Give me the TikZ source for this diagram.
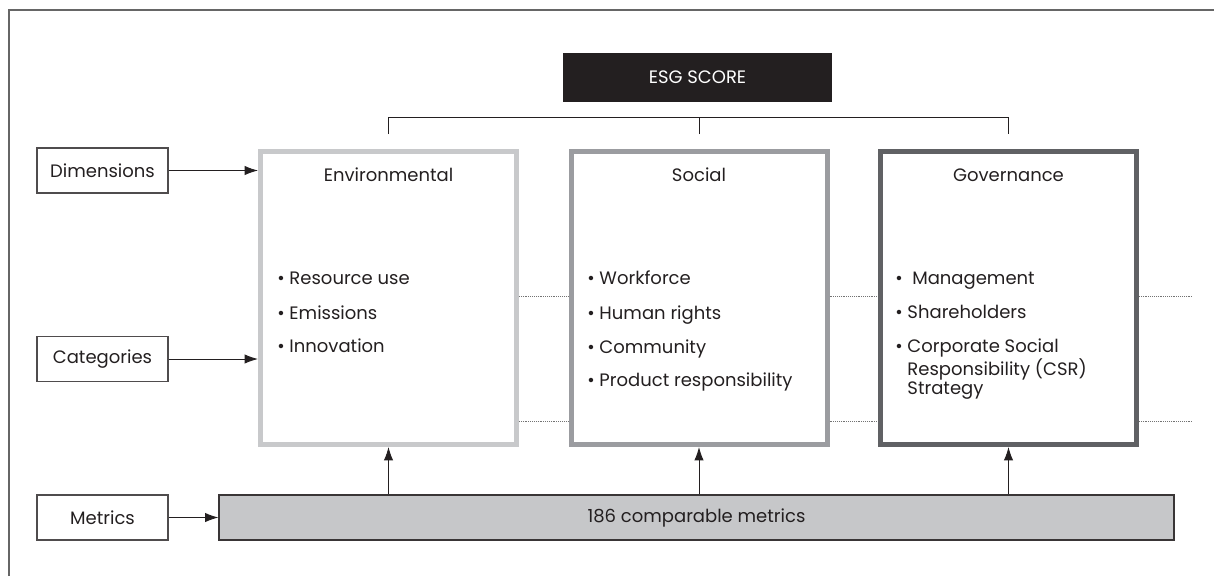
\documentclass[tikz,border=0pt]{standalone}
\usepackage{fontspec}
\setmainfont{Poppins}
\usetikzlibrary{arrows.meta}

\definecolor{ink}{HTML}{231F20}
\definecolor{envgray}{HTML}{C8C9CB}
\definecolor{socgray}{HTML}{9B9CA0}
\definecolor{govgray}{HTML}{606164}
\definecolor{barfill}{HTML}{C6C7C9}

\begin{document}
\begin{tikzpicture}[x=0.75pt,y=-0.75pt,>={Latex[length=10pt,width=7pt]},
    every node/.style={text=ink,font=\fontsize{13.5}{14.25}\selectfont},
    label box/.style={draw=ink!80,line width=0.8pt,minimum width=98.25pt,minimum height=33.75pt,inner sep=0pt},
    pillar/.style={draw=#1,line width=3.75pt,minimum width=192pt,minimum height=219.75pt,inner sep=0pt},
    items/.style={anchor=north west,align=left,inner sep=0pt},
    guide/.style={draw=black!55,line width=0.6pt,dash pattern=on 0.7pt off 0.7pt},
    link/.style={draw=ink,line width=0.7pt}]
    \useasboundingbox (0,0) rectangle (1214,576);
    % frame
    \draw [black!60,line width=0.8pt] (9,576) -- (9,10) -- (1214,10);

    \node [fill=ink,minimum width=201.75pt,minimum height=36.75pt,inner sep=0pt,text=white] (esg) at (697.5,77.5) {ESG SCORE};

    \node [pillar=envgray] (env) at (388.5,298) {};
    \node [pillar=socgray] (soc) at (699,298) {};
    \node [pillar=govgray] (gov) at (1008.5,298) {};

    \node at (388.5,175) {Environmental};
    \node at (699,175) {Social};
    \node at (1008.5,175) {Governance};

    % bullet lists, first baseline near y=284
    \node [items] (envlist) at (277,270.7) {\strut• Resource use\\[10.75pt]• Emissions\\[10.75pt]• Innovation};
    \node [items] (soclist) at (587,270.7) {\strut• Workforce\\[10.75pt]• Human rights\\[10.75pt]• Community\\[10.75pt]• Product responsibility};
    \node [items] (govlist) at (895,270.7) {\strut•\ \ Management\\[10.75pt]• Shareholders\\[10.75pt]• Corporate Social\\
        \phantom{• }Responsibility (CSR)\\\phantom{• }Strategy};

    \node [label box] (dim) at (102.5,170.5) {Dimensions};
    \node [label box] (cat) at (102.5,359) {Categories};
    \node [label box] (met) at (102.5,517.5) {Metrics};

    \node [draw=ink!90,line width=0.8pt,fill=barfill,minimum width=716.25pt,minimum height=33.75pt,inner sep=0pt] (bar) at (696.5,517.5) {186 comparable metrics};

    % bracket over the three pillars
    \draw [link] ([yshift=11.25pt]env.north) -- ++(0,-17) -| ([yshift=11.25pt]gov.north);
    \draw [link] ([yshift=11.25pt]soc.north) -- ++(0,-17);

    % dotted guides between the pillars
    \coordinate (g1) at (1192,296);
    \coordinate (g2) at (1192,421);
    \foreach \y/\g in {296/g1,421/g2}{
        \draw [guide] (env.east |- 0,\y) -- (soc.west |- 0,\y);
        \draw [guide] (soc.east |- 0,\y) -- (gov.west |- 0,\y);
        \draw [guide] (gov.east |- 0,\y) -- (\g);
    }

    \draw [link,->] (dim.east) -- (dim.east -| env.west);
    \draw [link,->] (cat.east) -- (cat.east -| env.west);
    \draw [link,->] (met.east) -- (bar.west);
    \foreach \p in {env,soc,gov}
        \draw [link,->] (bar.north -| \p.south) -- (\p.south);
\end{tikzpicture}
\end{document}
